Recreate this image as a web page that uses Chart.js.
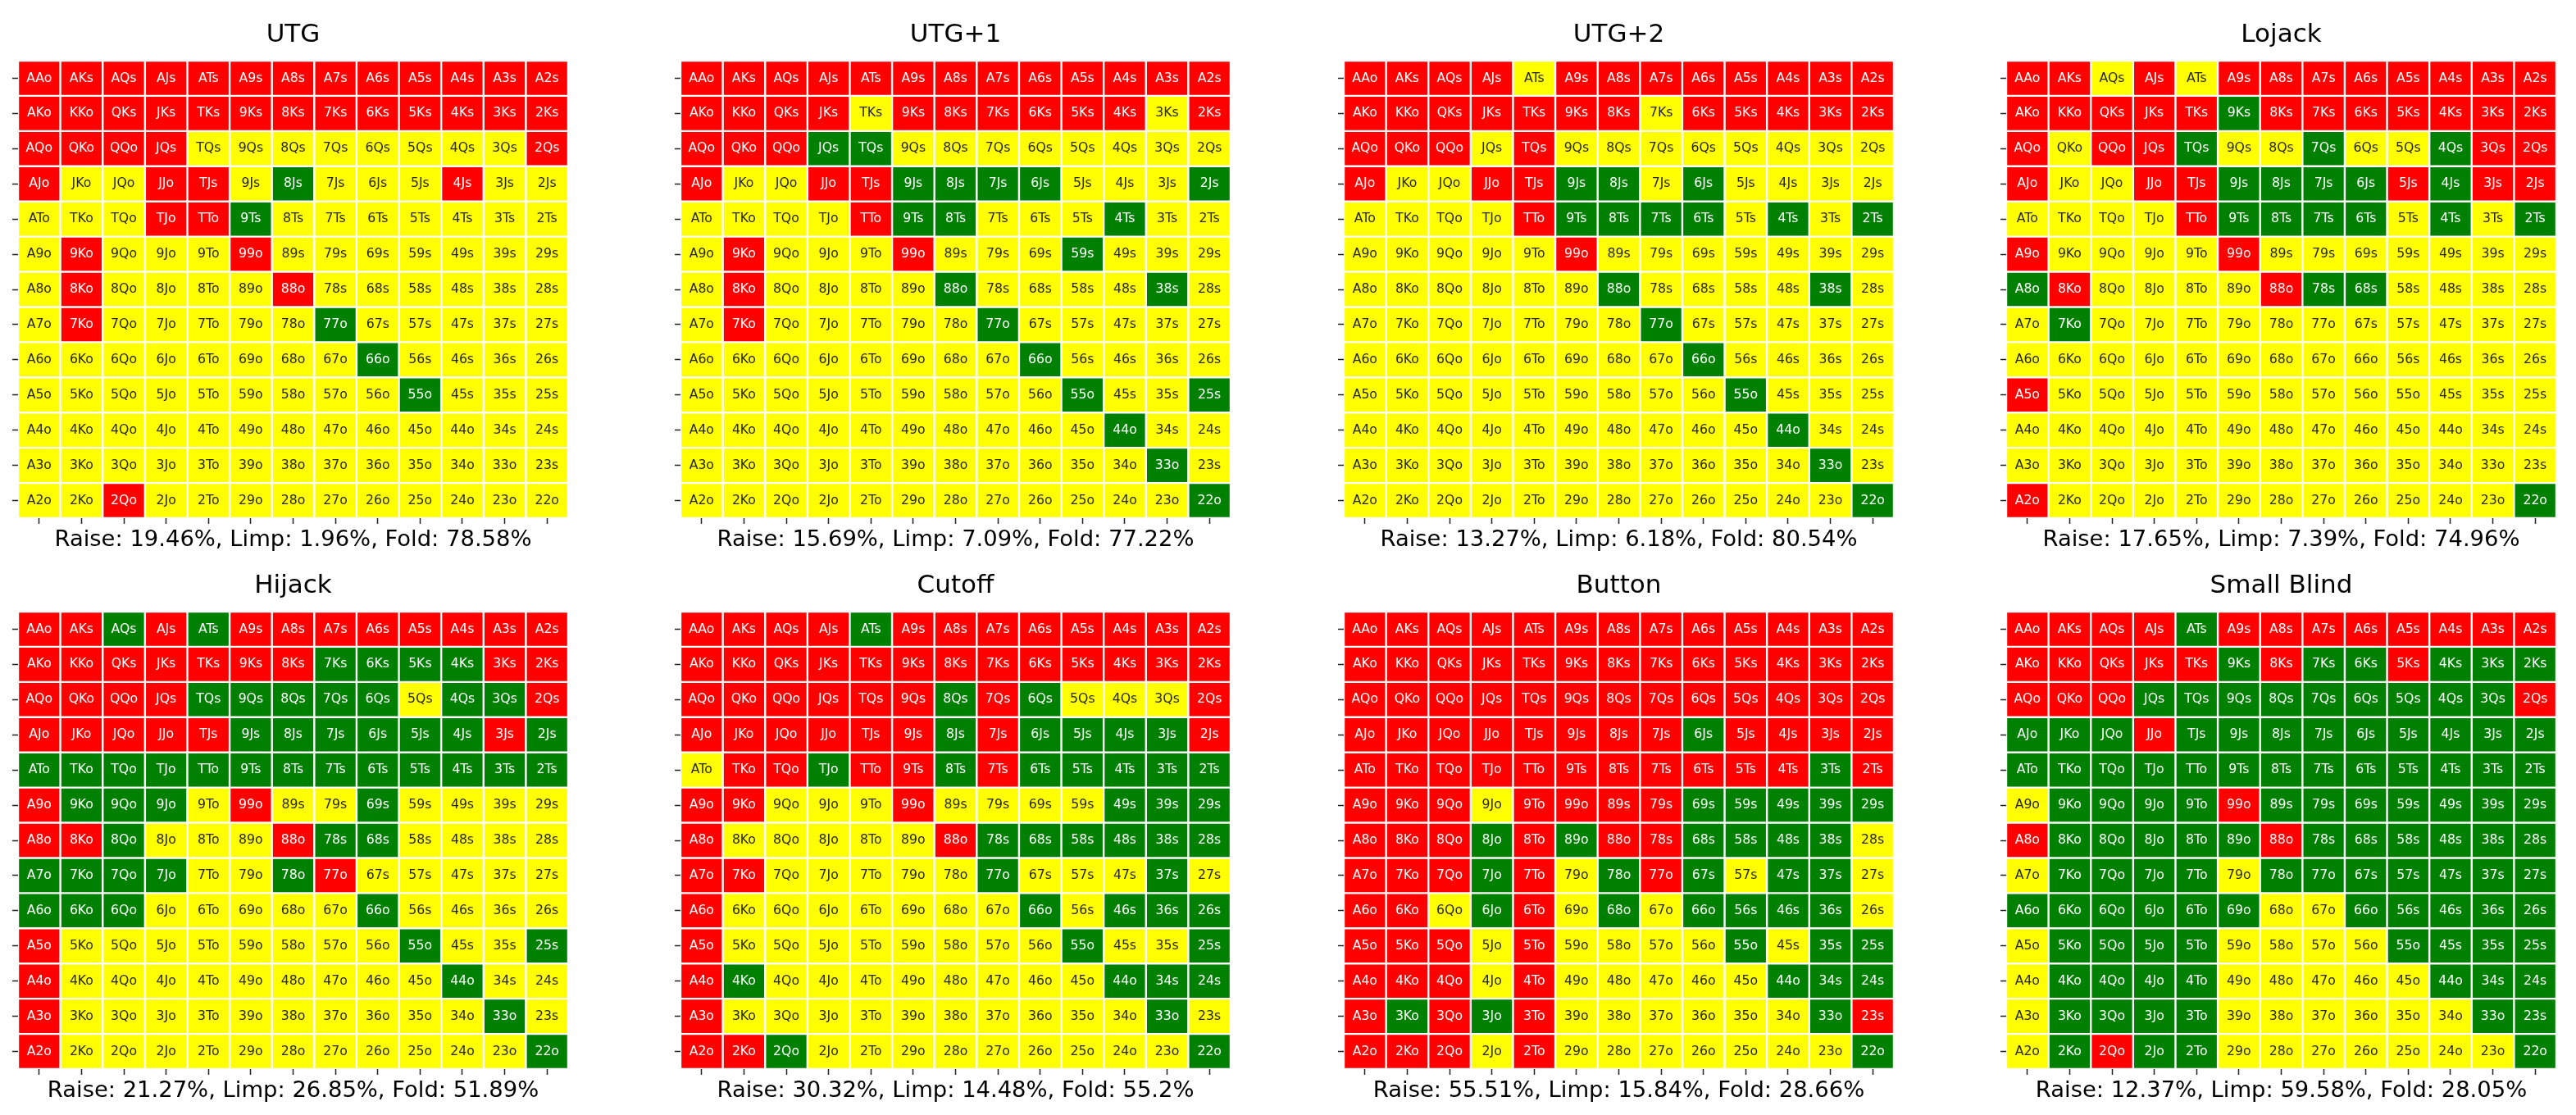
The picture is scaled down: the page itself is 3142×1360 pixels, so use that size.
<!DOCTYPE html>
<html>
<head>
<meta charset="utf-8">
<script src="https://cdn.jsdelivr.net/npm/chart.js@4/dist/chart.umd.min.js"></script>
<style>
    html, body { margin: 0; padding: 0; background: #fff; }
    body { width: 3142px; height: 1360px; position: relative; overflow: hidden; }
    .panel { position: absolute; }
</style>
</head>
<body>
<div id="board"></div>
<script>
// --- DATA ---
// Card ranks, used for both the 13 columns and the 13 rows
const ranks = ['A', 'K', 'Q', 'J', 'T', '9', '8', '7', '6', '5', '4', '3', '2'];

// Positions (one chart each)
const positions = ['UTG', 'UTG+1', 'UTG+2', 'Lojack', 'Hijack', 'Cutoff', 'Button', 'Small Blind'];

// Summary percentages per position
const raisePct = [19.46, 15.69, 13.27, 17.65, 21.27, 30.32, 55.51, 12.37];
const limpPct  = [1.96, 7.09, 6.18, 7.39, 26.85, 14.48, 15.84, 59.58];
const foldPct  = [78.58, 77.22, 80.54, 74.96, 51.89, 55.2, 28.66, 28.05];

// Action per hand: R = raise, L = limp, F = fold (rows/cols follow ranks)
const utgRange = [
    'RRRRRRRRRRRRR', 'RRRRRRRRRRRRR', 'RRRRFFFFFFFFR', 'RFFRRFLFFFRFF', 'FFFRRLFFFFFFF',
    'FRFFFRFFFFFFF', 'FRFFFFRFFFFFF', 'FRFFFFFLFFFFF', 'FFFFFFFFLFFFF', 'FFFFFFFFFLFFF',
    'FFFFFFFFFFFFF', 'FFFFFFFFFFFFF', 'FFRFFFFFFFFFF'
];
const utg1Range = [
    'RRRRRRRRRRRRR', 'RRRRFRRRRRRFR', 'RRRLLFFFFFFFF', 'RFFRRLLLLFFFL', 'FFFFRLLFFFLFF',
    'FRFFFRFFFLFFF', 'FRFFFFLFFFFLF', 'FRFFFFFLFFFFF', 'FFFFFFFFLFFFF', 'FFFFFFFFFLFFL',
    'FFFFFFFFFFLFF', 'FFFFFFFFFFFLF', 'FFFFFFFFFFFFL'
];
const utg2Range = [
    'RRRRFRRRRRRRR', 'RRRRRRRFRRRRR', 'RRRFRFFFFFFFF', 'RFFRRLLFLFFFF', 'FFFFRLLLLFLFL',
    'FFFFFRFFFFFFF', 'FFFFFFLFFFFLF', 'FFFFFFFLFFFFF', 'FFFFFFFFLFFFF', 'FFFFFFFFFLFFF',
    'FFFFFFFFFFLFF', 'FFFFFFFFFFFLF', 'FFFFFFFFFFFFL'
];
const lojackRange = [
    'RRFRFRRRRRRRR', 'RRRRRLRRRRRRR', 'RFRRLFFLFFLRR', 'RFFRRLLLLRLRR', 'FFFFRLLLLFLFL',
    'RFFFFRFFFFFFF', 'LRFFFFRLLFFFF', 'FLFFFFFFFFFFF', 'FFFFFFFFFFFFF', 'RFFFFFFFFFFFF',
    'FFFFFFFFFFFFF', 'FFFFFFFFFFFFF', 'RFFFFFFFFFFFL'
];
const hijackRange = [
    'RRLRLRRRRRRRR', 'RRRRRRRLLLLRR', 'RRRRLLLLLFLLR', 'RRRRRLLLLLLRL', 'LLLLLLLLLLLLL',
    'RLLLFRFFLFFFF', 'RRLFFFRLLFFFF', 'LLLLFFLRFFFFF', 'LLLFFFFFLFFFF', 'RFFFFFFFFLFFL',
    'RFFFFFFFFFLFF', 'RFFFFFFFFFFLF', 'RFFFFFFFFFFFL'
];
const cutoffRange = [
    'RRRRLRRRRRRRR', 'RRRRRRRRRRRRR', 'RRRRRRLRLFFFR', 'RRRRRRLRLLLLR', 'FRRLRRLRLLLLL',
    'RRFFFRFFFFLLL', 'RFFFFFRLLLLLL', 'RRFFFFFLFFFLF', 'RFFFFFFFLFLLL', 'RFFFFFFFFLFFL',
    'RLFFFFFFFFLLL', 'RFFFFFFFFFFLF', 'RRLFFFFFFFFFL'
];
const buttonRange = [
    'RRRRRRRRRRRRR', 'RRRRRRRRRRRRR', 'RRRRRRRRRRRRR', 'RRRRRRRRLRRRR', 'RRRRRRRRRRRLR',
    'RRRFRRRRLLLLL', 'RRRLRLRRLLLLF', 'RRRLRFLRLFLLF', 'RRFLRFLFLLLLF', 'RRRFRFFFFLFLL',
    'RRRFRFFFFFLLL', 'RLRLRFFFFFFLR', 'RRRFRFFFFFFFL'
];
const smallBlindRange = [
    'RRRRLRRRRRRRR', 'RRRRRLRLLRLLL', 'RRRLLLLLLLLLR', 'LLLRLLLLLLLLL', 'LLLLLLLLLLLLL',
    'FLLLLRLLLLLLL', 'RLLLLLRLLLLLL', 'FLLLLFLLLLLLL', 'LLLLLLFFLLLLL', 'FLLLLFFFFLLLL',
    'FLLLLFFFFFLLL', 'FLLLLFFFFFFLL', 'FLRLLFFFFFFFL'
];

const ranges = [utgRange, utg1Range, utg2Range, lojackRange, hijackRange, cutoffRange, buttonRange, smallBlindRange];

// --- STYLE ---
const actionColors = { R: '#ff0000', L: '#008000', F: '#ffff00' };
const textColors = { R: '#ffffff', L: '#ffffff', F: '#262626' };

const gridLefts = [21.5, 830, 1638.5, 2447];
const gridTops = [74, 746];
const gridW = 671;
const padL = 40, padR = 40, canvasW = padL + gridW + padR, canvasH = 680;

Chart.defaults.font.family = "'DejaVu Sans', sans-serif";
Chart.defaults.color = '#000';

// --- HELPERS ---
// Hand name as printed in each cell (e.g. AKs, QKo, 89o)
function handLabel(i, j) {
    if (i === j) return ranks[i] + ranks[i] + 'o';
    const hi = Math.min(i, j), lo = Math.max(i, j);
    const pair = hi === 0 ? 'A' + ranks[lo] : ranks[lo] + ranks[hi];
    return pair + (j > i ? 's' : 'o');
}

// Writes the hand name in the middle of every bar
const cellLabels = {
    id: 'cellLabels',
    afterDatasetsDraw(chart, args, opts) {
        const ctx = chart.ctx;
        ctx.save();
        ctx.font = "15.7px 'DejaVu Sans'";
        ctx.textAlign = 'center';
        ctx.textBaseline = 'middle';
        chart.data.datasets.forEach((ds, i) => {
            chart.getDatasetMeta(i).data.forEach((bar, j) => {
                const { x, y, base } = bar.getProps(['x', 'y', 'base'], true);
                ctx.fillStyle = textColors[opts.range[i][j]];
                ctx.fillText(handLabel(i, j), x, (y + base) / 2);
            });
        });
        ctx.restore();
    }
};

const sideAxis = {
    stacked: true,
    border: { display: false },
    grid: { offset: false, drawOnChartArea: false, drawTicks: true, tickLength: 7, tickColor: '#222', tickWidth: 1.5 },
    ticks: { display: false }
};

// --- RENDER ---
function renderChart(k) {
    const range = ranges[k];
    const box = document.createElement('div');
    box.className = 'panel';
    box.style.left = (gridLefts[k % 4] - padL) + 'px';
    box.style.top = (gridTops[Math.floor(k / 4)] - 74) + 'px';
    const canvas = document.createElement('canvas');
    canvas.width = canvasW;
    canvas.height = canvasH;
    box.appendChild(canvas);
    document.getElementById('board').appendChild(box);

    new Chart(canvas.getContext('2d'), {
        type: 'bar',
        data: {
            labels: ranks,
            datasets: range.map((row, i) => ({
                label: ranks[i],
                data: ranks.map(() => 1),
                backgroundColor: row.split('').map(a => actionColors[a]),
                borderColor: '#ffffff',
                borderWidth: 1.2,
                borderSkipped: false,
                inflateAmount: 0,
                barPercentage: 1,
                categoryPercentage: 1
            }))
        },
        options: {
            responsive: false,
            devicePixelRatio: 1,
            animation: false,
            events: [],
            layout: { padding: { left: padL - 7, right: padR, top: 0, bottom: 0 } },
            scales: {
                x: { ...sideAxis },
                y: {
                    ...sideAxis,
                    min: 0,
                    max: ranks.length,
                    reverse: true,
                    afterBuildTicks: axis => {
                        axis.ticks = ranks.map((r, i) => ({ value: i + 0.5 }));
                    }
                }
            },
            plugins: {
                legend: { display: false },
                tooltip: { enabled: false },
                title: {
                    display: true,
                    text: positions[k],
                    fullSize: false,
                    font: { size: 31, weight: 'normal' },
                    color: '#000',
                    padding: { top: 24.4, bottom: 12.4 }
                },
                subtitle: {
                    display: true,
                    position: 'bottom',
                    fullSize: false,
                    text: `Raise: ${raisePct[k]}%, Limp: ${limpPct[k]}%, Fold: ${foldPct[k]}%`,
                    font: { size: 27.4, weight: 'normal' },
                    color: '#000',
                    padding: { top: 3.5, bottom: 4.6 }
                },
                cellLabels: { range }
            }
        },
        plugins: [cellLabels]
    });
}

positions.forEach((p, k) => renderChart(k));
</script>
</body>
</html>
